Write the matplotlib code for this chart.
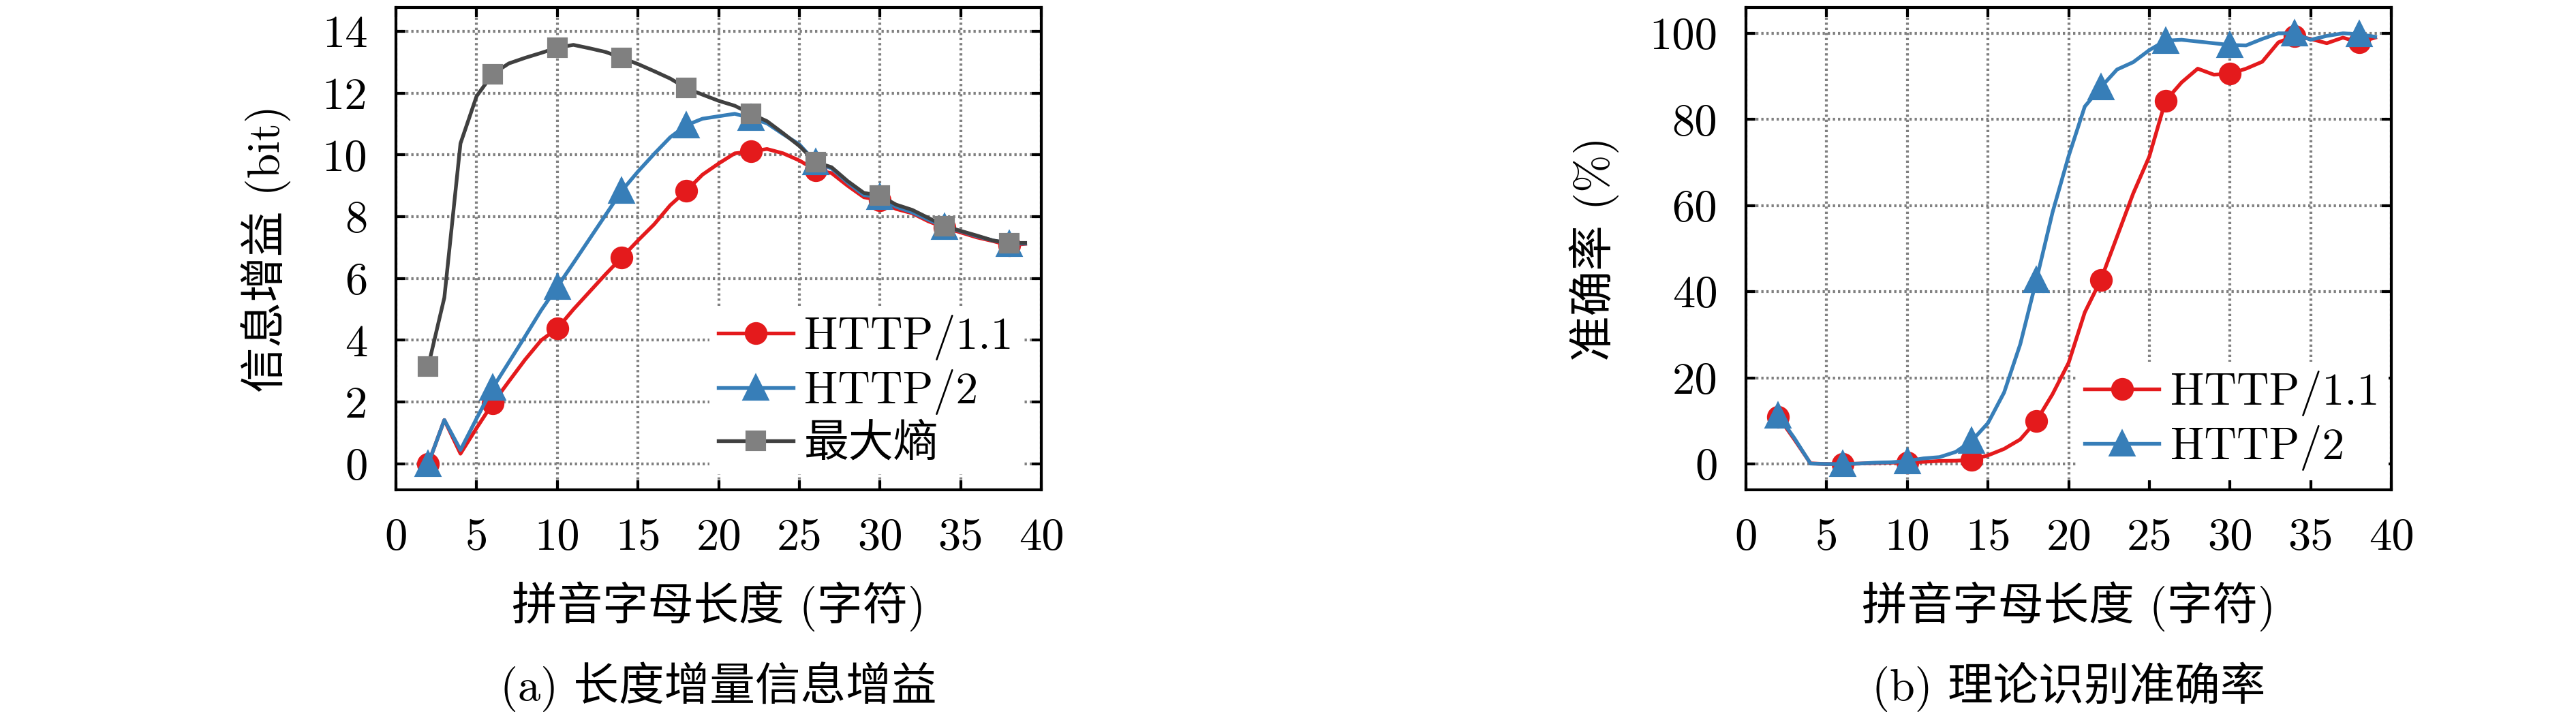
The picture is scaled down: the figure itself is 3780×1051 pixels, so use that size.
import matplotlib
matplotlib.use("Agg")
import numpy as np
from matplotlib import pyplot as plt

plt.rcParams['font.family'] = ['cmr10', 'Noto Sans CJK SC', 'DejaVu Sans']
plt.rcParams['axes.unicode_minus'] = False
plt.rcParams['axes.formatter.use_mathtext'] = False

# pinyin length (characters)
length = list(range(2, 40))

# (a) information gain, bit
gain_h1 = [0.0, 1.42, 0.33, 1.16, 1.96, 2.67, 3.37, 4.0, 4.38, 5.0,
           5.57, 6.14, 6.68, 7.23, 7.75, 8.37, 8.84, 9.36, 9.72, 10.05,
           10.11, 10.19, 10.05, 9.82, 9.51, 9.41, 9.0, 8.63, 8.53, 8.25,
           8.11, 7.85, 7.65, 7.49, 7.33, 7.21, 7.07, 7.12]
gain_h2 = [0.0, 1.42, 0.45, 1.47, 2.46, 3.29, 4.12, 4.97, 5.73, 6.5,
           7.28, 8.06, 8.84, 9.46, 10.03, 10.57, 10.96, 11.17, 11.25, 11.33,
           11.19, 11.02, 10.67, 10.34, 9.77, 9.56, 9.1, 8.7, 8.63, 8.32,
           8.14, 7.9, 7.67, 7.53, 7.37, 7.23, 7.13, 7.13]
max_entropy = [3.16, 5.38, 10.37, 11.9, 12.62, 12.96, 13.14, 13.3, 13.47, 13.56,
               13.45, 13.33, 13.14, 12.94, 12.71, 12.47, 12.16, 11.95, 11.75, 11.59,
               11.33, 11.09, 10.7, 10.29, 9.77, 9.6, 9.15, 8.77, 8.68, 8.39,
               8.22, 7.96, 7.7, 7.54, 7.39, 7.23, 7.15, 7.15]

# (b) theoretical accuracy, %
acc_h1 = [11.0, 5.7, 0.15, 0.0, 0.0, 0.1, 0.2, 0.3, 0.4, 0.5,
          0.7, 0.75, 1.0, 2.0, 3.5, 5.7, 10.0, 16.2, 23.5, 35.2,
          42.8, 52.8, 62.8, 71.4, 84.3, 88.6, 91.8, 90.4, 90.6, 91.8,
          93.4, 97.9, 99.4, 98.7, 97.7, 99.0, 97.9, 99.0]
acc_h2 = [11.3, 6.0, 0.1, 0.0, 0.0, 0.1, 0.3, 0.4, 0.7, 1.3,
          1.6, 2.8, 5.4, 9.5, 16.6, 27.8, 42.7, 58.4, 71.5, 83.0,
          87.5, 91.6, 93.3, 96.1, 98.3, 98.5, 98.1, 97.7, 97.3, 97.2,
          98.7, 100.0, 100.0, 98.5, 99.4, 100.0, 99.8, 99.2]

xticks = [0, 5, 10, 15, 20, 25, 30, 35, 40]
yticks_a = [0, 2, 4, 6, 8, 10, 12, 14]
yticks_b = [0, 20, 40, 60, 80, 100]

RED = '#e41a1c'
BLUE = '#377eb8'
DARK = '#404040'
GREY = '#808080'

W, H = 3780, 1051
fig = plt.figure(figsize=(W / 300, H / 300), dpi=300)


def box(left):
    return [left / W, 1 - 719 / H, 947 / W, 708 / H]


def style(ax, yticks, ylim):
    ax.set_xlim(0, 40)
    ax.set_ylim(*ylim)
    ax.set_xticks(xticks)
    ax.set_yticks(yticks)
    ax.set_axisbelow(True)
    ax.grid(True, color=GREY, linestyle=(0, (0.8, 1.0)), linewidth=1.0)
    ax.tick_params(direction='in', length=3.4, width=1.0, top=True, right=True,
                   pad=10, labelsize=16)
    for s in ax.spines.values():
        s.set_linewidth(1.0)


def legend(ax, anchor):
    leg = ax.legend(loc='upper left', bbox_to_anchor=anchor, borderaxespad=0,
                    fancybox=False, edgecolor='none', facecolor='white', framealpha=1,
                    fontsize=15.8, handlelength=1.66, handletextpad=0.25,
                    labelspacing=0.2, borderpad=0.2)
    leg.set_zorder(2.2)
    return leg


mk = slice(0, None, 4)

ax1 = fig.add_axes(box(581))
ax1.plot(length, gain_h1, color=RED, lw=1.3, marker='o', ms=7, mec=RED,
         markevery=mk, label='HTTP/1.1')
ax1.plot(length, gain_h2, color=BLUE, lw=1.3, marker='^', ms=8, mec=BLUE,
         markevery=mk, label='HTTP/2')
ax1.plot(length, max_entropy, color=DARK, lw=1.3, marker='s', ms=6.3,
         mfc=GREY, mec=GREY, markevery=mk, label='最大熵')
style(ax1, yticks_a, (-0.84, 14.77))
ax1.set_xlabel('拼音字母长度 (字符)', fontsize=16, va='center')
ax1.xaxis.set_label_coords(0.5, -0.2415)
ax1.set_ylabel('信息增益 (bit)', fontsize=16, va='center')
ax1.yaxis.set_label_coords(-0.2017, 0.5)
ax1.text(0.5, -0.408, '(a) 长度增量信息增益', transform=ax1.transAxes,
         ha='center', va='center', fontsize=16)
legend(ax1, (0.4858, 0.382))

ax2 = fig.add_axes(box(2562))
ax2.plot(length, acc_h1, color=RED, lw=1.3, marker='o', ms=7, mec=RED,
         markevery=mk, label='HTTP/1.1')
ax2.plot(length, acc_h2, color=BLUE, lw=1.3, marker='^', ms=8, mec=BLUE,
         markevery=mk, label='HTTP/2')
style(ax2, yticks_b, (-6, 106))
ax2.set_xlabel('拼音字母长度 (字符)', fontsize=16, va='center')
ax2.xaxis.set_label_coords(0.5, -0.2415)
ax2.set_ylabel('准确率 (%)', fontsize=16, va='center')
ax2.yaxis.set_label_coords(-0.2355, 0.5)
ax2.text(0.5, -0.408, '(b) 理论识别准确率', transform=ax2.transAxes,
         ha='center', va='center', fontsize=16)
legend(ax2, (0.511, 0.266))

fig.savefig('out.png', dpi=300)
